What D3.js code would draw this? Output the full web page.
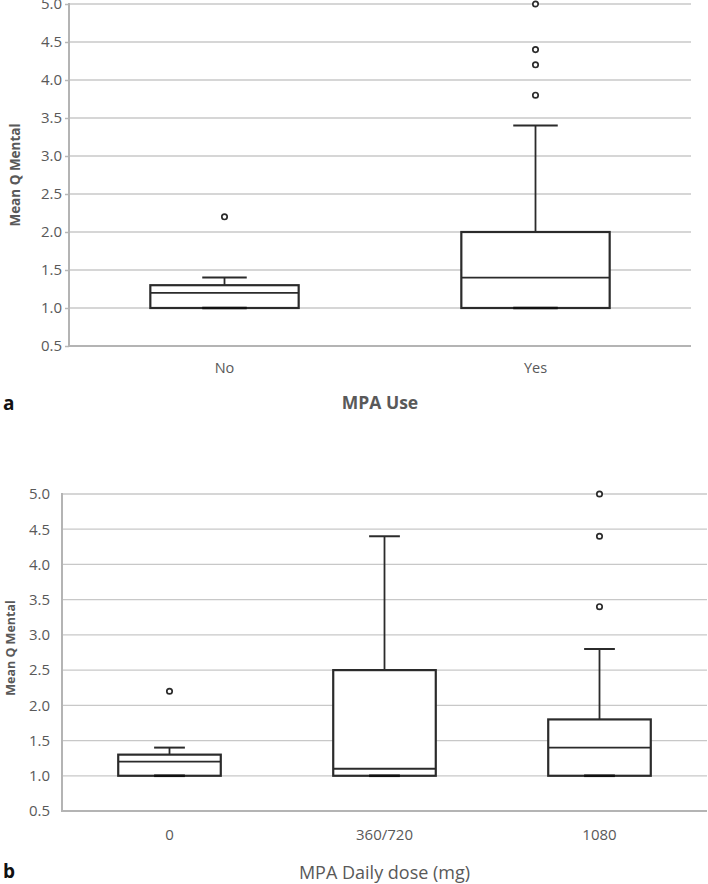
<!DOCTYPE html>
<html>
<head>
<meta charset="utf-8">
<script src="https://cdn.jsdelivr.net/npm/d3@7/dist/d3.min.js"></script>
<style>
  html, body { margin: 0; padding: 0; background: #fff; }
  svg { display: block; }
  text { font-family: "Open Sans", "DejaVu Sans", sans-serif; }
</style>
</head>
<body>
<svg id="chart" width="708" height="884"></svg>
<script>
// ---- data ----
const yTicks = [0.5, 1.0, 1.5, 2.0, 2.5, 3.0, 3.5, 4.0, 4.5, 5.0];

const groupsA = ["No", "Yes"];
const lowA = [1.0, 1.0];
const q1A = [1.0, 1.0];
const medA = [1.2, 1.4];
const q3A = [1.3, 2.0];
const highA = [1.4, 3.4];
const outliersA = [[2.2], [3.8, 4.2, 4.4, 5.0]];

const groupsB = ["0", "360/720", "1080"];
const lowB = [1.0, 1.0, 1.0];
const q1B = [1.0, 1.0, 1.0];
const medB = [1.2, 1.1, 1.4];
const q3B = [1.3, 2.5, 1.8];
const highB = [1.4, 4.4, 2.8];
const outliersB = [[2.2], [], [5.0, 4.4, 3.4]];

const svg = d3.select("#chart");

function drawPanel(o) {
  const x = d3.scaleBand().domain(o.groups).range([o.left, o.right]).paddingInner(0).paddingOuter(0);
  const y = d3.scaleLinear().domain([0.5, 5.0]).range([o.bottom, o.top]);
  const g = svg.append("g");
  const boxW = x.bandwidth() * 0.477;
  const capW = boxW * 0.3;

  // gridlines
  g.selectAll("line.grid").data(yTicks.filter(t => t > 0.5)).join("line")
    .attr("x1", o.left).attr("x2", o.right)
    .attr("y1", d => y(d)).attr("y2", d => y(d))
    .attr("stroke", "#c8c8c8").attr("stroke-width", 1.3);

  // y axis via d3
  const yAxis = d3.axisLeft(y).tickValues(yTicks).tickFormat(d3.format(".1f"))
    .tickSize(o.tickLen).tickPadding(o.tickPad);
  const ya = g.append("g").attr("transform", `translate(${o.left},0)`).call(yAxis);
  ya.select(".domain").remove();
  ya.selectAll(".tick line").attr("stroke", "#b8b8b8").attr("stroke-width", 1.5);
  ya.selectAll(".tick text").attr("fill", "#595959").style("font-size", o.tickFont + "px");

  // x axis via d3
  const xAxis = d3.axisBottom(x).tickSize(0).tickPadding(o.xTickPad);
  const xa = g.append("g").attr("transform", `translate(0,${o.bottom})`).call(xAxis);
  xa.select(".domain").remove();
  xa.selectAll(".tick text").attr("fill", "#595959").style("font-size", o.xTickFont + "px");

  // axis lines
  g.append("line").attr("x1", o.left).attr("x2", o.left).attr("y1", y(5.0) - 1).attr("y2", o.bottom + 1)
    .attr("stroke", "#b4b4b4").attr("stroke-width", 2);
  g.append("line").attr("x1", o.left).attr("x2", o.right).attr("y1", o.bottom).attr("y2", o.bottom)
    .attr("stroke", "#b4b4b4").attr("stroke-width", 2);

  const idx = o.groups.map((d, i) => i);
  const cx = i => x(o.groups[i]) + x.bandwidth() / 2;
  const dark = "#2b2b2b";

  // whiskers
  g.selectAll("line.wh").data(idx).join("line")
    .attr("x1", cx).attr("x2", cx)
    .attr("y1", i => y(o.q3[i])).attr("y2", i => y(o.high[i]))
    .attr("stroke", dark).attr("stroke-width", 1.8);
  g.selectAll("line.capH").data(idx).join("line")
    .attr("x1", i => cx(i) - capW / 2).attr("x2", i => cx(i) + capW / 2)
    .attr("y1", i => y(o.high[i])).attr("y2", i => y(o.high[i]))
    .attr("stroke", dark).attr("stroke-width", 2);

  // boxes
  g.selectAll("rect.box").data(idx).join("rect")
    .attr("x", i => cx(i) - boxW / 2).attr("width", boxW)
    .attr("y", i => y(o.q3[i])).attr("height", i => y(o.q1[i]) - y(o.q3[i]))
    .attr("fill", "#fff").attr("stroke", dark).attr("stroke-width", 2.2);
  g.selectAll("line.med").data(idx).join("line")
    .attr("x1", i => cx(i) - boxW / 2).attr("x2", i => cx(i) + boxW / 2)
    .attr("y1", i => y(o.med[i])).attr("y2", i => y(o.med[i]))
    .attr("stroke", dark).attr("stroke-width", 1.8);
  g.selectAll("line.capL").data(idx).join("line")
    .attr("x1", i => cx(i) - capW / 2).attr("x2", i => cx(i) + capW / 2)
    .attr("y1", i => y(o.low[i])).attr("y2", i => y(o.low[i]))
    .attr("stroke", "#111").attr("stroke-width", 2.6);

  // outliers
  const pts = [];
  o.outliers.forEach((arr, i) => arr.forEach(v => pts.push({ i, v })));
  g.selectAll("circle.out").data(pts).join("circle")
    .attr("cx", d => cx(d.i)).attr("cy", d => y(d.v)).attr("r", 2.7)
    .attr("fill", "#fff").attr("stroke", dark).attr("stroke-width", 1.7);

  // y label
  g.append("text")
    .attr("transform", `translate(${o.yLabelX},${o.yLabelY}) rotate(-90)`)
    .attr("text-anchor", "middle").attr("dominant-baseline", "middle")
    .attr("fill", "#595959").style("font-size", o.yLabelFont + "px").style("font-weight", "bold")
    .text("Mean Q Mental");

  // x title
  g.append("text")
    .attr("x", (o.left + o.right) / 2).attr("y", o.titleY)
    .attr("text-anchor", "middle").attr("dominant-baseline", "middle")
    .attr("fill", "#595959").style("font-size", o.titleFont + "px").style("font-weight", o.titleWeight)
    .text(o.title);

  // panel letter
  g.append("text")
    .attr("x", 3).attr("y", o.letterY)
    .attr("dominant-baseline", "middle")
    .attr("fill", "#111").style("font-size", "19px").style("font-weight", "bold")
    .text(o.letter);
}

drawPanel({
  groups: groupsA, low: lowA, q1: q1A, med: medA, q3: q3A, high: highA, outliers: outliersA,
  left: 69, right: 691, top: 4, bottom: 346,
  tickLen: 4, tickPad: 3, tickFont: 15, xTickPad: 17, xTickFont: 14.5,
  yLabelX: 16, yLabelY: 175, yLabelFont: 13.5,
  title: "MPA Use", titleY: 404, titleFont: 17.5, titleWeight: "bold",
  letter: "a", letterY: 405
});

drawPanel({
  groups: groupsB, low: lowB, q1: q1B, med: medB, q3: q3B, high: highB, outliers: outliersB,
  left: 62, right: 707, top: 494, bottom: 811,
  tickLen: 0, tickPad: 12, tickFont: 15, xTickPad: 18, xTickFont: 15,
  yLabelX: 12, yLabelY: 648, yLabelFont: 12.5,
  title: "MPA Daily dose (mg)", titleY: 874, titleFont: 18, titleWeight: "normal",
  letter: "b", letterY: 873
});
</script>
</body>
</html>
